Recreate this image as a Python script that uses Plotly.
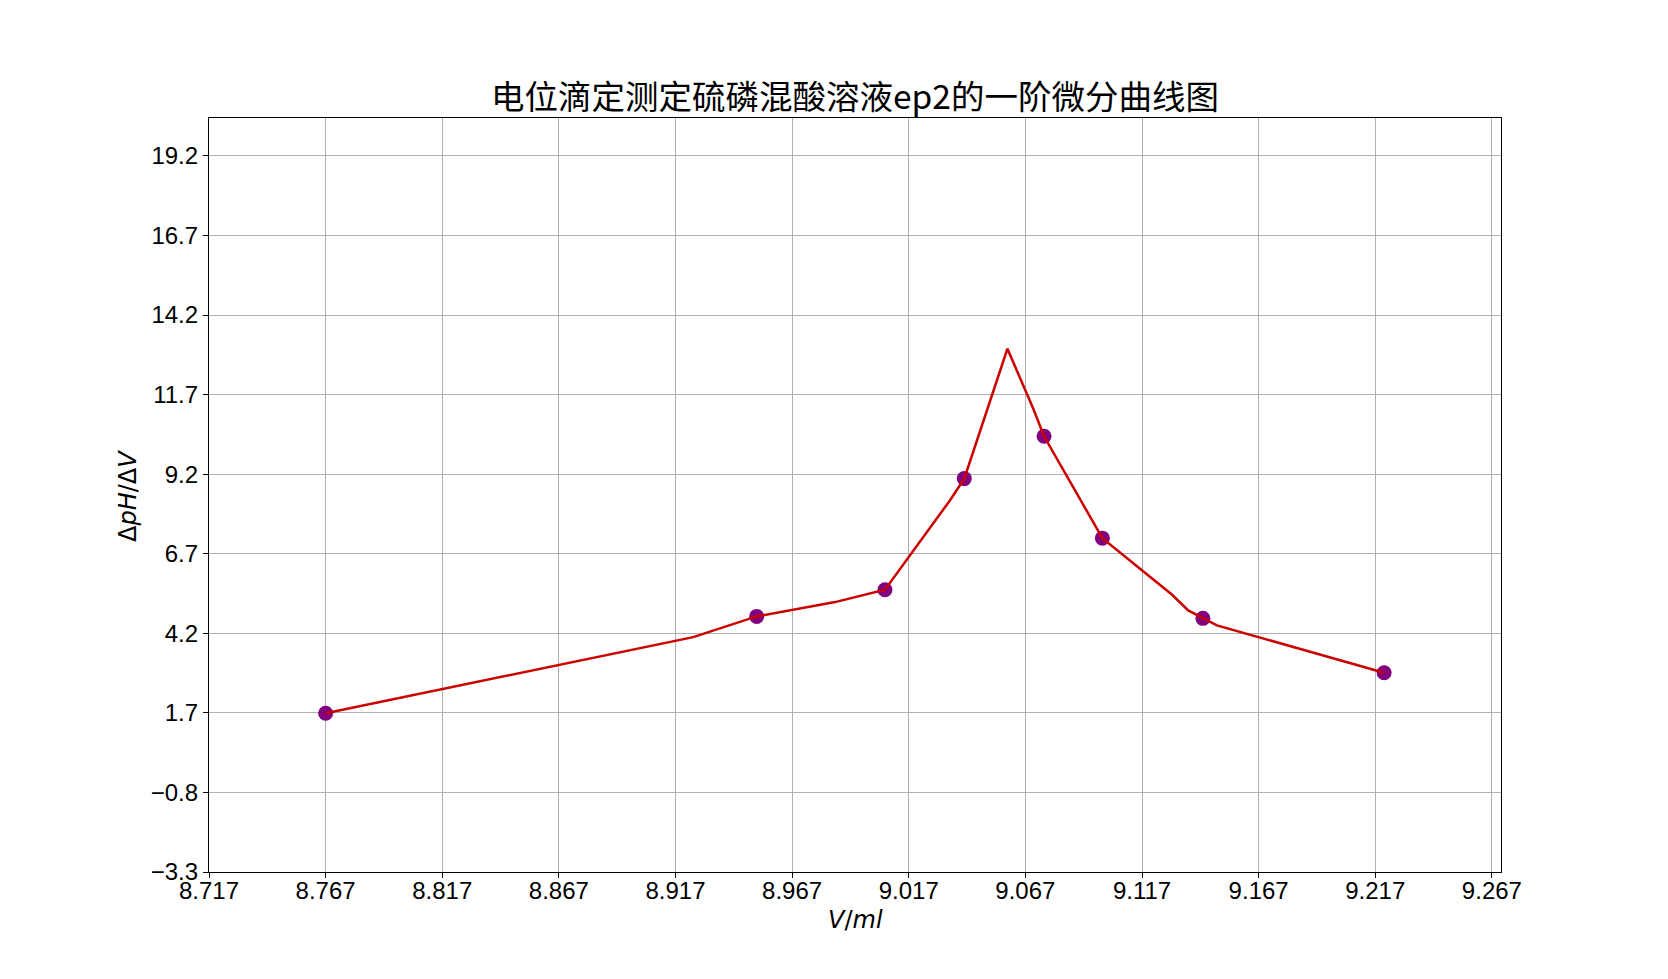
import plotly.graph_objects as go

# Data points (measured derivative values)
point_v = [8.767, 8.9518, 9.0068, 9.0408, 9.075, 9.100, 9.1431, 9.2208]
point_d = [1.69, 4.73, 5.57, 9.06, 10.39, 7.19, 4.67, 2.96]

# Vertices of the drawn red curve
curve_v = [8.767, 8.9246, 8.9518, 8.9854, 9.0068, 9.0347, 9.0408, 9.0593,
           9.0703, 9.075, 9.100, 9.1299, 9.1368, 9.1431, 9.1491, 9.2208]
curve_d = [1.69, 4.08, 4.73, 5.18, 5.57, 8.38, 9.06, 13.14,
           11.27, 10.39, 7.19, 5.41, 4.92, 4.67, 4.45, 2.96]

x_ticks = [8.717 + 0.05 * k for k in range(12)]
x_ticktext = [f"{v:.3f}" for v in x_ticks]
y_ticks = [-3.3 + 2.5 * k for k in range(10)]
y_ticktext = [f"{v:.1f}".replace("-", "\u2212") for v in y_ticks]

title_text = "电位滴定测定硫磷混酸溶液ep2的一阶微分曲线图"

W, H = 1668, 979
OFF = 8  # page body margin
# target plot box in page pixels
PL, PR, PT, PB = 209, 1501, 118, 872
L, T = PL - OFF, PT - OFF
R = W - (PR - OFF)
B = H - (PB - OFF)

def to_paper(px, py):
    return (px - PL) / (PR - PL), (PB - py) / (PB - PT)

fig = go.Figure()
fig.add_trace(go.Scatter(
    x=point_v, y=point_d, mode="markers",
    marker=dict(color="#800080", size=15, line=dict(width=0)),
    showlegend=False, hoverinfo="skip"))
fig.add_trace(go.Scatter(
    x=curve_v, y=curve_d, mode="lines",
    line=dict(color="#cc0000", width=2.5),
    showlegend=False, hoverinfo="skip"))

tick_font = dict(family="Liberation Sans, Arial, sans-serif", size=24, color="black")

xl_x, xl_y = to_paper(855, 920)
yl_x, yl_y = to_paper(128, 496)

fig.update_layout(
    width=W, height=H,
    margin=dict(l=L, r=R, t=T, b=B, pad=0),
    paper_bgcolor="white", plot_bgcolor="white",
    title=dict(text=title_text, x=((PL + PR) / 2 - OFF) / W, xanchor="center",
               y=1 - (97 - OFF) / H, yanchor="middle", yref="container",
               font=dict(family="Noto Sans CJK SC, sans-serif", size=33.5, color="black")),
    xaxis=dict(range=[8.717, 9.2709], tickmode="array", tickvals=x_ticks,
               ticktext=x_ticktext, showgrid=True, gridcolor="#b0b0b0", gridwidth=1.1,
               zeroline=False, showline=True, linecolor="black", linewidth=1.1,
               mirror=True, ticks="outside", ticklen=5, tickwidth=1.1,
               tickcolor="black", tickfont=tick_font, ticklabelstandoff=-8),
    yaxis=dict(range=[-3.3, 20.39], tickmode="array", tickvals=y_ticks,
               ticktext=y_ticktext, showgrid=True, gridcolor="#b0b0b0", gridwidth=1.1,
               zeroline=False, showline=True, linecolor="black", linewidth=1.1,
               mirror=True, ticks="outside", ticklen=5, tickwidth=1.1,
               tickcolor="black", tickfont=tick_font),
    annotations=[
        dict(text="<i>V</i>/<i>ml</i>", x=xl_x, y=xl_y,
             xref="paper", yref="paper", showarrow=False, xanchor="center",
             yanchor="middle", font=dict(family="DejaVu Sans, sans-serif", size=24, color="black")),
        dict(text="Δ<i>pH</i>/Δ<i>V</i>", x=yl_x, y=yl_y,
             xref="paper", yref="paper", showarrow=False, xanchor="center",
             yanchor="middle", textangle=-90,
             font=dict(family="DejaVu Sans, sans-serif", size=24, color="black")),
    ],
)

fig.write_html("out.html")
